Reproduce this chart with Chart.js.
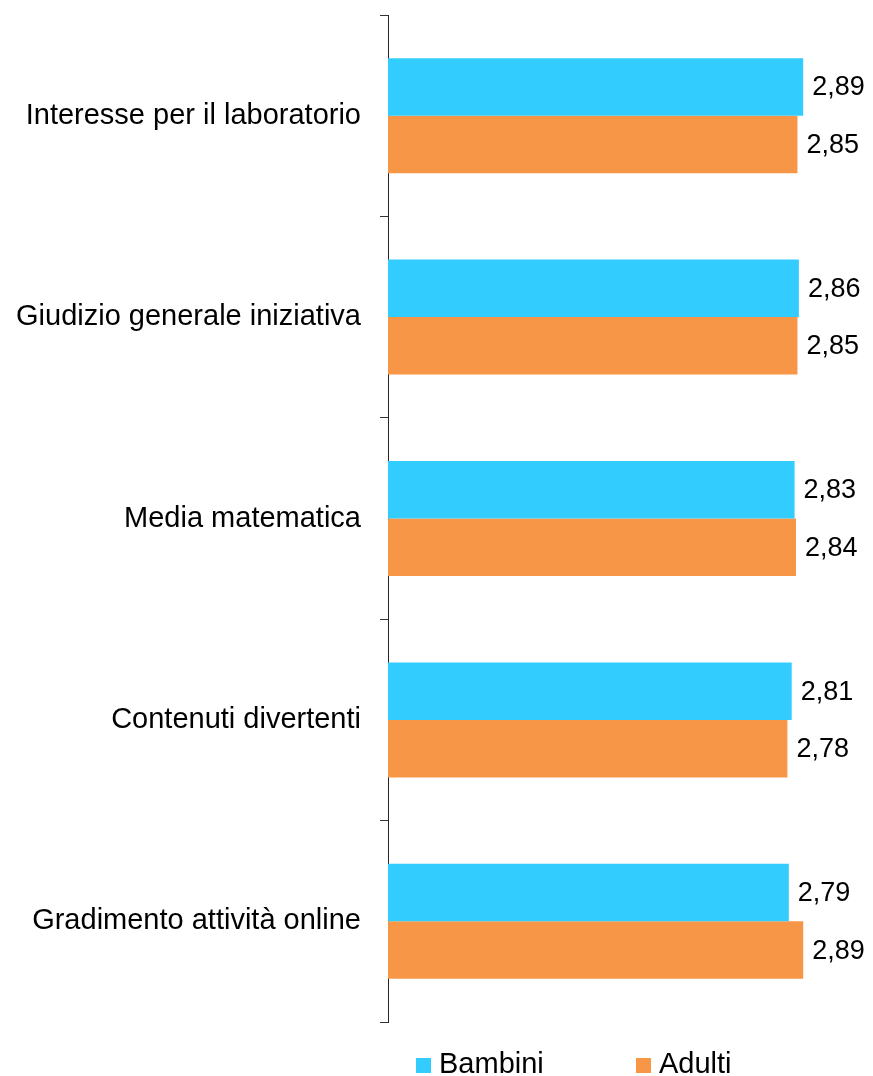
<!DOCTYPE html>
<html>
<head>
<meta charset="utf-8">
<script src="https://cdn.jsdelivr.net/npm/chart.js@4/dist/chart.umd.min.js"></script>
<style>
  html, body { margin: 0; padding: 0; background: #fff; }
  #wrap { width: 873px; height: 1076px; position: relative; }
</style>
</head>
<body>
<div id="wrap"><canvas id="c" width="873" height="1076"></canvas></div>
<script>
const categories = [
  "Interesse per il laboratorio",
  "Giudizio generale iniziativa",
  "Media matematica",
  "Contenuti divertenti",
  "Gradimento attività online"
];
const seriesNames = ["Bambini", "Adulti"];
const bambini = [2.89, 2.86, 2.83, 2.81, 2.79];
const adulti = [2.85, 2.85, 2.84, 2.78, 2.89];
const colors = ["#33CCFF", "#F79646"];
const xMin = 0;
const xMax = 3;

const FONT = "'Liberation Sans', Arial, sans-serif";

const valueLabels = {
  id: 'valueLabels',
  afterDatasetsDraw(chart) {
    const ctx = chart.ctx;
    ctx.save();
    ctx.font = "27px " + FONT;
    ctx.fillStyle = "#000";
    ctx.textAlign = "left";
    ctx.textBaseline = "middle";
    chart.data.datasets.forEach((ds, di) => {
      const meta = chart.getDatasetMeta(di);
      meta.data.forEach((el, i) => {
        const txt = ds.data[i].toFixed(2).replace('.', ',');
        ctx.fillText(txt, el.x + 9, el.y + 1);
      });
    });
    ctx.restore();
  }
};

const customLegend = {
  id: 'customLegend',
  afterDraw(chart) {
    const ctx = chart.ctx;
    ctx.save();
    ctx.font = "29px " + FONT;
    ctx.textBaseline = "alphabetic";
    ctx.textAlign = "left";
    const starts = [416, 636];
    const baseY = 1073;
    chart.data.datasets.forEach((ds, i) => {
      const x = starts[i];
      ctx.fillStyle = ds.backgroundColor;
      ctx.fillRect(x, baseY - 15, 15, 15);
      ctx.fillStyle = "#000";
      ctx.fillText(ds.label, x + 23, baseY);
    });
    ctx.restore();
  }
};

new Chart(document.getElementById('c'), {
  type: 'bar',
  data: {
    labels: categories,
    datasets: [
      { label: seriesNames[0], data: bambini, backgroundColor: colors[0], borderWidth: 0 },
      { label: seriesNames[1], data: adulti, backgroundColor: colors[1], borderWidth: 0 }
    ]
  },
  options: {
    indexAxis: 'y',
    responsive: false,
    animation: false,
    events: [],
    layout: { padding: { top: 15, right: 54, bottom: 54, left: 0 } },
    datasets: { bar: { categoryPercentage: 0.571, barPercentage: 1.0 } },
    plugins: {
      legend: { display: false },
      tooltip: { enabled: false },
      title: { display: false }
    },
    scales: {
      x: {
        display: false,
        min: xMin,
        max: xMax
      },
      y: {
        afterFit: s => { s.width = 388; s.paddingTop = 0; s.paddingBottom = 0; },
        grid: {
          offset: true,
          drawOnChartArea: false,
          drawTicks: true,
          tickLength: 8,
          color: '#333333',
          lineWidth: 1
        },
        border: { display: true, color: '#262626', width: 1 },
        ticks: {
          color: '#000',
          padding: 19,
          font: { family: FONT, size: 29 }
        }
      }
    }
  },
  plugins: [valueLabels, customLegend]
});
</script>
</body>
</html>
